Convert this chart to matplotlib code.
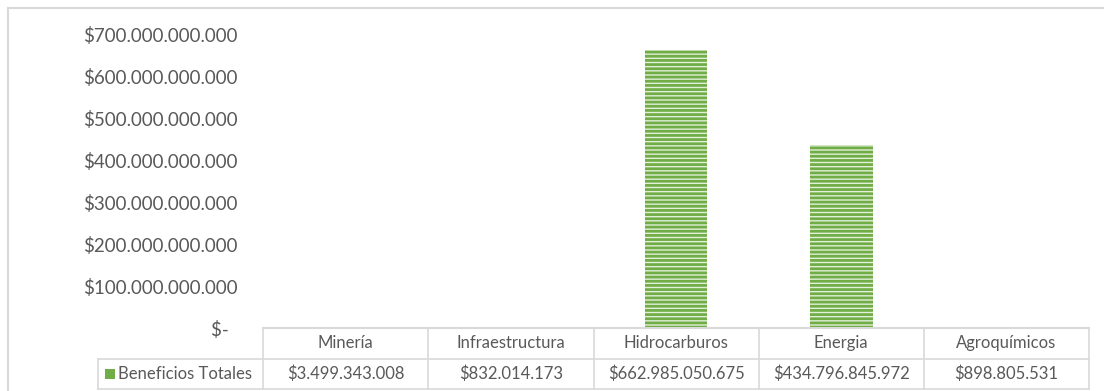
import matplotlib.pyplot as plt
import numpy as np
from matplotlib.patches import Rectangle
from matplotlib.lines import Line2D

categories = ["Minería", "Infraestructura", "Hidrocarburos", "Energia", "Agroquímicos"]
values = [3499343008, 832014173, 662985050675, 434796845972, 898805531]
value_labels = ["$3.499.343.008", "$832.014.173", "$662.985.050.675",
                "$434.796.845.972", "$898.805.531"]
series_name = "Beneficios Totales"
y_ticks = [0, 100e9, 200e9, 300e9, 400e9, 500e9, 600e9, 700e9]

GREEN = "#70AD47"
LIGHT = "#E2F0D9"
GRID = "#D9D9D9"
TEXT = "#595959"

plt.rcParams["font.family"] = ["Lato", "DejaVu Sans"]
plt.rcParams["hatch.linewidth"] = 2.0

W, H = 1104, 391
fig = plt.figure(figsize=(W / 100, H / 100), dpi=100)


def fx(px):
    return px / W


def fy(py):
    return 1 - py / H


# main plot area
x0, x1 = 263, 1089
y_zero, y_top = 328, 34
ax = fig.add_axes([fx(x0), fy(y_zero), fx(x1 - x0), fy(y_top) - fy(y_zero)])
x = np.arange(len(categories))
ax.bar(x, values, width=0.38, color=LIGHT, edgecolor=GREEN, linewidth=0, hatch="----")
ax.set_xlim(-0.5, len(categories) - 0.5)
ax.set_ylim(0, 700e9)
ax.set_xticks([])
ax.set_yticks(y_ticks)


def fmt(v):
    if v == 0:
        return "$-  "
    return "$" + f"{int(v):,}".replace(",", ".")


ax.set_yticklabels([fmt(v) for v in y_ticks])
ax.tick_params(axis="y", length=0, pad=18, labelsize=13.5, labelcolor=TEXT)
for s in ["top", "right", "left"]:
    ax.spines[s].set_visible(False)
ax.spines["bottom"].set_color(GRID)
ax.spines["bottom"].set_linewidth(1.5)
ax.patch.set_alpha(0)

# data table below
t_left, t_mid, t_bot = 98, 359, 389
tab = fig.add_axes([fx(t_left), fy(t_bot), fx(x1 - t_left), fy(y_zero) - fy(t_bot)])
tab.set_xlim(-1.5, len(categories) - 0.5)
tab.set_ylim(0, 2)
tab.axis("off")
lw = 1.2
# horizontal lines
tab.add_line(Line2D([-0.5, 4.5], [2, 2], color=GRID, lw=lw, clip_on=False))
tab.add_line(Line2D([-1.5, 4.5], [1, 1], color=GRID, lw=lw, clip_on=False))
tab.add_line(Line2D([-1.5, 4.5], [0, 0], color=GRID, lw=lw, clip_on=False))
# vertical lines
tab.add_line(Line2D([-1.5, -1.5], [0, 1], color=GRID, lw=lw, clip_on=False))
for i in range(len(categories) + 1):
    tab.add_line(Line2D([i - 0.5, i - 0.5], [0, 2], color=GRID, lw=lw, clip_on=False))
for i, (c, v) in enumerate(zip(categories, value_labels)):
    tab.text(i, 1.5, c, ha="center", va="center", fontsize=12, color=TEXT)
    tab.text(i, 0.5, v, ha="center", va="center", fontsize=12, color=TEXT)
tab.add_patch(Rectangle((-1.455, 0.33), 0.06, 0.34, facecolor=LIGHT, edgecolor=GREEN,
                        linewidth=0, hatch="-------"))
tab.text(-1.38, 0.5, series_name, ha="left", va="center", fontsize=12, color=TEXT)

# outer chart border (left and top)
fig.add_artist(Line2D([fx(8), fx(8)], [fy(8), 0], color=GRID, lw=1.5))
fig.add_artist(Line2D([fx(8), 1], [fy(8), fy(8)], color=GRID, lw=1.5))

fig.savefig("out.png", dpi=100)
